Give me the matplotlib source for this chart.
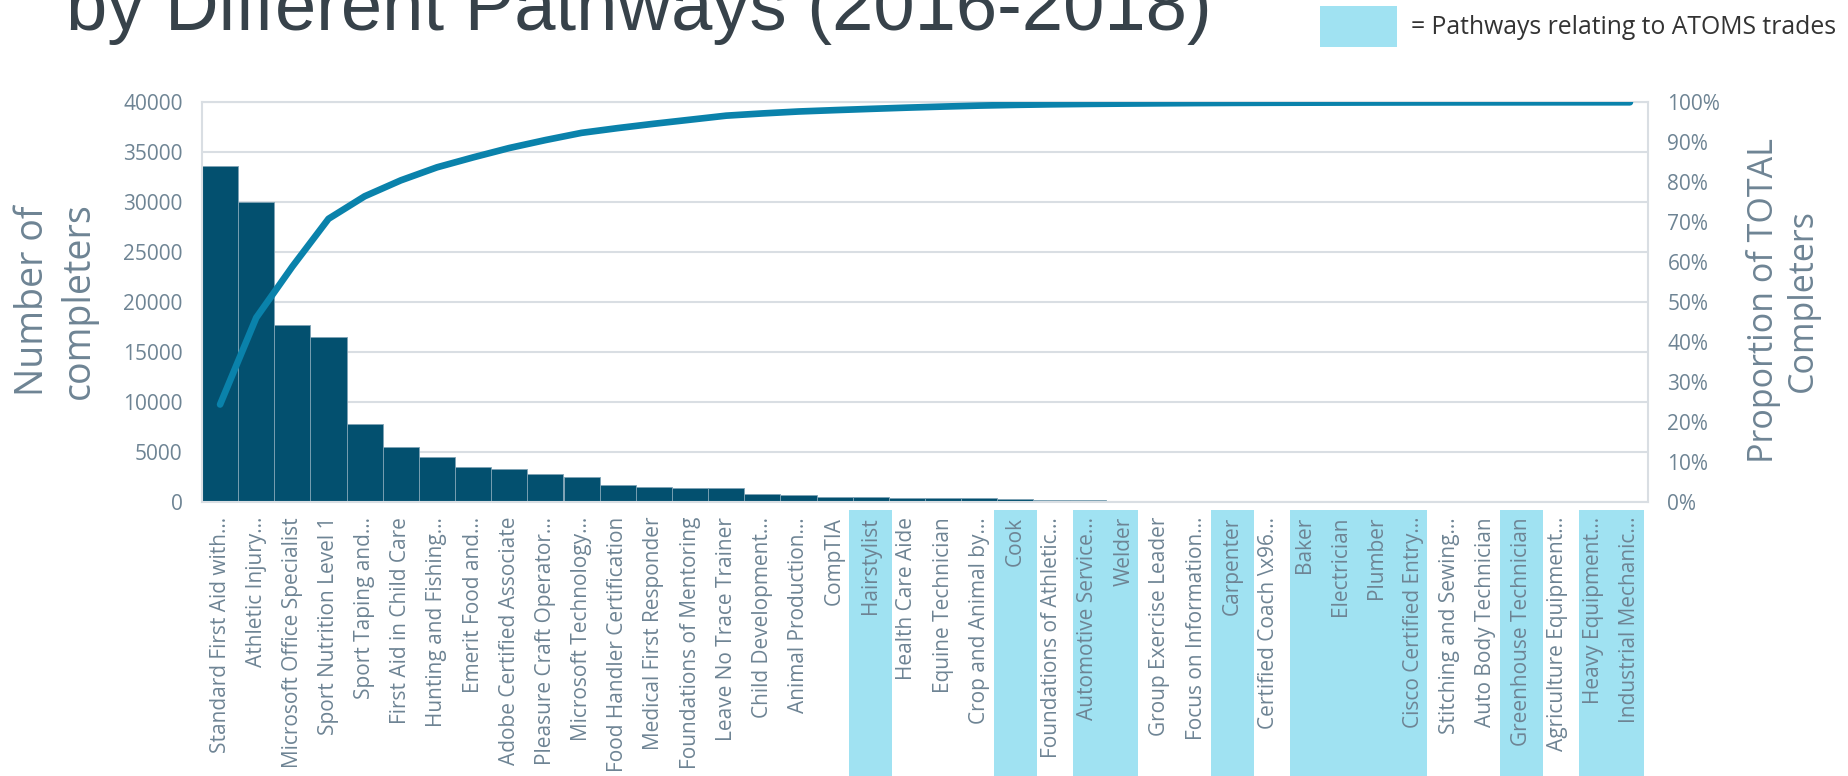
import matplotlib
matplotlib.use("Agg")
import matplotlib.pyplot as plt
import matplotlib.transforms as mtransforms
from matplotlib.patches import Rectangle
import numpy as np

# pathways, sorted by number of completers
pathways = [
    "Standard First Aid with...", "Athletic Injury...", "Microsoft Office Specialist",
    "Sport Nutrition Level 1", "Sport Taping and...", "First Aid in Child Care",
    "Hunting and Fishing...", "Emerit Food and...", "Adobe Certified Associate",
    "Pleasure Craft Operator...", "Microsoft Technology...", "Food Handler Certification",
    "Medical First Responder", "Foundations of Mentoring", "Leave No Trace Trainer",
    "Child Development...", "Animal Production...", "CompTIA", "Hairstylist",
    "Health Care Aide", "Equine Technician", "Crop and Animal by...", "Cook",
    "Foundations of Athletic...", "Automotive Service...", "Welder",
    "Group Exercise Leader", "Focus on Information...", "Carpenter",
    "Certified Coach \\x96...", "Baker", "Electrician", "Plumber",
    "Cisco Certified Entry...", "Stitching and Sewing...", "Auto Body Technician",
    "Greenhouse Technician", "Agriculture Equipment...", "Heavy Equipment...",
    "Industrial Mechanic...",
]
completers = [
    33600, 30000, 17700, 16500, 7780, 5510, 4500, 3440, 3240, 2740,
    2500, 1640, 1500, 1400, 1400, 770, 670, 470, 440, 420,
    370, 340, 250, 190, 140, 110, 95, 85, 60, 45,
    35, 30, 25, 20, 15, 12, 10, 8, 6, 5,
]
# pathways relating to ATOMS trades
atoms_trades = [
    "Hairstylist", "Cook", "Automotive Service...", "Welder", "Carpenter",
    "Baker", "Electrician", "Plumber", "Cisco Certified Entry...",
    "Greenhouse Technician", "Heavy Equipment...", "Industrial Mechanic...",
]
left_ticks = [0, 5000, 10000, 15000, 20000, 25000, 30000, 35000, 40000]
right_ticks = [0, 0.1, 0.2, 0.3, 0.4, 0.5, 0.6, 0.7, 0.8, 0.9, 1.0]

BAR = "#03506F"
LINE = "#0A82AB"
GRID = "#D9DEE3"
TXT = "#6E8494"
HIGHLIGHT = "#A0E2F2"
FONT = ["Open Sans", "DejaVu Sans"]

W, H = 1848, 776
fig = plt.figure(figsize=(W / 100, H / 100), dpi=100)
ax = fig.add_axes([202 / W, (H - 501.7) / H, 1446 / W, 399.4 / H])

x = np.arange(len(pathways))
ax.bar(x, completers, width=1.0, color=BAR, edgecolor="#7FA3B5", linewidth=0.6)
ax.set_xlim(-0.5, len(pathways) - 0.5)
ax.set_ylim(0, 40000)
ax.set_yticks(left_ticks)
ax.set_yticklabels([str(t) for t in left_ticks], family=FONT, fontsize=15, color=TXT)
ax.set_xticks(x)
ax.set_xticklabels(pathways, rotation=90, family=FONT, fontsize=15, color=TXT)
ax.tick_params(axis="y", length=0, pad=14)
ax.tick_params(axis="x", length=0, pad=11)
ax.grid(axis="y", color=GRID, linewidth=1.5)
ax.set_axisbelow(True)
for s in ax.spines.values():
    s.set_color(GRID)
    s.set_linewidth(1.5)

# cumulative share on the right axis
cum = np.cumsum(completers) / np.sum(completers)
ax2 = ax.twinx()
ax2.plot(x, cum, color=LINE, linewidth=4.8, solid_capstyle="round", solid_joinstyle="round")
ax2.set_ylim(0, 1)
ax2.set_yticks(right_ticks)
ax2.set_yticklabels([f"{int(round(t * 100))}%" for t in right_ticks],
                    family=FONT, fontsize=15, color=TXT)
ax2.tick_params(axis="y", length=0, pad=14)
for s in ax2.spines.values():
    s.set_visible(False)

# highlight boxes behind the ATOMS trade labels
trans = mtransforms.blended_transform_factory(ax.transData, ax.transAxes)
idx = [pathways.index(p) for p in atoms_trades]
groups = []
for i in idx:
    if groups and i == groups[-1][1] + 1:
        groups[-1][1] = i
    else:
        groups.append([i, i])
for a, b in groups:
    pad = 0.6 if a == b else 0.4
    ax.add_patch(Rectangle((a - pad, -0.69), b - a + 2 * pad, 0.67, transform=trans,
                           facecolor=HIGHLIGHT, edgecolor="none", clip_on=False, zorder=0.1))

# axis titles
fig.text(56 / W, 1 - 301 / H, "Number of\ncompleters", rotation=90, ha="center", va="center",
         family=FONT, fontsize=27, color=TXT, linespacing=1.25)
fig.text(1783 / W, 1 - 301 / H, "Proportion of TOTAL\nCompleters", rotation=90, ha="center",
         va="center", family=FONT, fontsize=24.5, color=TXT, linespacing=1.2)

# title (cropped at the top of the slide)
fig.text(66 / W, 1 - 30 / H, "by Different Pathways (2016-2018)", ha="left", va="baseline",
         family=["Liberation Sans", "DejaVu Sans"], fontsize=53.5, color="#37424A")

# legend key
fig.patches.append(Rectangle((1320 / W, 1 - 47 / H), 77 / W, 41 / H, transform=fig.transFigure,
                             facecolor=HIGHLIGHT, edgecolor="none"))
fig.text(1411 / W, 1 - 27 / H, "= Pathways relating to ATOMS trades", ha="left", va="center",
         family=FONT, fontsize=17.8, color="#333333")

fig.savefig("out.png", dpi=100)
